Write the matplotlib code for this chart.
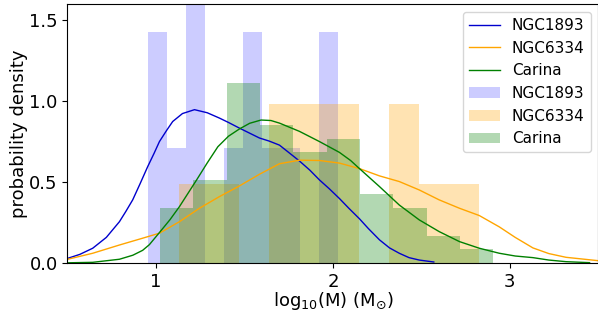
import numpy as np
import matplotlib
matplotlib.use("Agg")
import matplotlib.pyplot as plt

# histogram data: bin range + counts per bin (10 bins each)
ngc1893_range = (0.954, 2.031)
ngc1893_counts = [2, 1, 3, 0, 1, 2, 1, 1, 0, 2]
ngc6334_range = (1.133, 2.824)
ngc6334_counts = [1, 1, 0, 2, 2, 2, 0, 2, 1, 1]
carina_range = (1.024, 2.907)
carina_counts = [4, 6, 13, 10, 8, 9, 5, 4, 2, 1]

# kde curves
ngc1893_kde_x = [0.45, 0.5, 0.57, 0.643, 0.72, 0.794, 0.83, 0.869, 0.91, 0.954, 0.99,
                 1.02, 1.06, 1.095, 1.15, 1.218, 1.29, 1.359, 1.41, 1.472, 1.585,
                 1.64, 1.698, 1.75, 1.811, 1.87, 1.924, 1.98, 2.037, 2.09, 2.15,
                 2.2, 2.263, 2.32, 2.375, 2.43, 2.488, 2.57]
ngc1893_kde_y = [0.018, 0.03, 0.055, 0.093, 0.16, 0.257, 0.32, 0.392, 0.49, 0.598, 0.68,
                 0.752, 0.82, 0.876, 0.925, 0.949, 0.93, 0.897, 0.87, 0.835, 0.774,
                 0.755, 0.73, 0.685, 0.632, 0.575, 0.515, 0.46, 0.40, 0.34, 0.275,
                 0.215, 0.145, 0.095, 0.062, 0.035, 0.02, 0.008]
ngc6334_kde_x = [0.45, 0.502, 0.643, 0.794, 0.925, 1.02, 1.133, 1.246, 1.359, 1.472,
                 1.585, 1.698, 1.811, 1.924, 2.037, 2.15, 2.263, 2.375, 2.488, 2.6,
                 2.715, 2.827, 2.94, 3.03, 3.13, 3.22, 3.317, 3.5]
ngc6334_kde_y = [0.018, 0.025, 0.062, 0.113, 0.155, 0.186, 0.257, 0.34, 0.412, 0.478,
                 0.55, 0.615, 0.637, 0.635, 0.619, 0.585, 0.54, 0.505, 0.453, 0.392,
                 0.34, 0.295, 0.225, 0.16, 0.095, 0.06, 0.037, 0.016]
carina_kde_x = [0.45, 0.5, 0.643, 0.794, 0.87, 0.925, 0.963, 1.02, 1.08, 1.133, 1.18,
                1.23, 1.29, 1.35, 1.41, 1.472, 1.53, 1.594, 1.65, 1.698, 1.811, 1.924,
                2.037, 2.1, 2.15, 2.263, 2.375, 2.488, 2.6, 2.715, 2.827, 2.94, 3.03,
                3.13, 3.22, 3.317, 3.45]
carina_kde_y = [0.002, 0.003, 0.006, 0.025, 0.05, 0.08, 0.115, 0.19, 0.27, 0.35, 0.43,
                0.515, 0.62, 0.72, 0.785, 0.83, 0.865, 0.885, 0.882, 0.866, 0.815, 0.752,
                0.685, 0.635, 0.585, 0.474, 0.36, 0.268, 0.196, 0.134, 0.093, 0.062, 0.045,
                0.035, 0.02, 0.01, 0.004]

plt.rcParams['font.size'] = 13

fig = plt.figure(figsize=(5.98, 3.2), dpi=100)
ax = fig.add_axes([0.1127, 0.1772, 0.8880, 0.8094])

ax.plot(ngc1893_kde_x, ngc1893_kde_y, color='mediumblue', lw=1, label='NGC1893')
ax.plot(ngc6334_kde_x, ngc6334_kde_y, color='orange', lw=1, label='NGC6334')
ax.plot(carina_kde_x, carina_kde_y, color='green', lw=1, label='Carina')

hists = [
    (ngc1893_range, ngc1893_counts, 'blue', 0.2, 'NGC1893'),
    (ngc6334_range, ngc6334_counts, 'orange', 0.3, 'NGC6334'),
    (carina_range, carina_counts, 'green', 0.3, 'Carina'),
]
for rng, counts, col, a, name in hists:
    edges = np.linspace(rng[0], rng[1], len(counts) + 1)
    centers = (edges[:-1] + edges[1:]) / 2
    ax.hist(centers, bins=edges, weights=counts, density=True,
            color=col, alpha=a, label=name)

ax.set_xlim(0.5, 3.5)
ax.set_ylim(0, 1.6)
ax.set_xticks([1, 2, 3])
ax.set_yticks([0.0, 0.5, 1.0, 1.5])
ax.set_xlabel(r'log$_{10}$(M) (M$_{\odot}$)', labelpad=-1)
ax.set_ylabel('probability density', labelpad=1)
ax.legend(loc='upper right', fontsize=11)

plt.savefig('out.png', dpi=100)
